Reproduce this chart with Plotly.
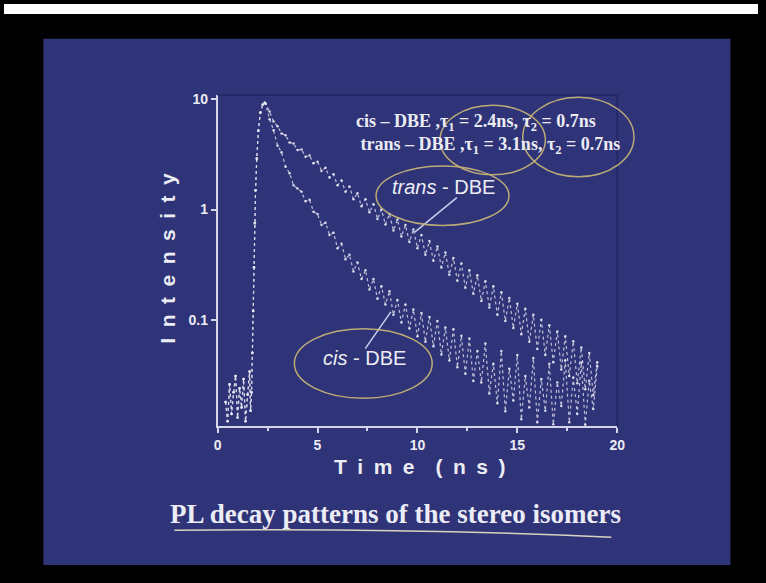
import plotly.graph_objects as go

# ---------------- data ----------------
rise_time = [0.4, 0.5, 0.6, 0.7, 0.8, 0.9, 1.0, 1.1, 1.2, 1.3, 1.4, 1.5, 1.6, 1.65, 1.7,
             1.74, 1.78, 1.82, 1.86, 1.90, 1.96, 2.04, 2.14, 2.26, 2.36]
rise_intensity = [0.018, 0.012, 0.026, 0.014, 0.022, 0.031, 0.013, 0.024, 0.016, 0.029, 0.012,
                  0.021, 0.034, 0.015, 0.022,
                  0.05, 0.12, 0.3, 0.75, 1.5, 2.9, 5.2, 7.6, 9.0, 9.3]

decay_time = [2.4, 2.6, 2.8, 3.0, 3.2, 3.4, 3.6, 3.8, 4.0, 4.2, 4.4, 4.6, 4.8, 5.0, 5.2, 5.4,
              5.6, 5.8, 6.0, 6.2, 6.4, 6.6, 6.8, 7.0, 7.2, 7.4, 7.6, 7.8, 8.0, 8.2, 8.4, 8.6,
              8.8, 9.0, 9.2, 9.4, 9.6, 9.8, 10.0, 10.2, 10.4, 10.6, 10.8, 11.0, 11.2, 11.4,
              11.6, 11.8, 12.0, 12.2, 12.4, 12.6, 12.8, 13.0, 13.2, 13.4, 13.6, 13.8, 14.0,
              14.2, 14.4, 14.6, 14.8, 15.0, 15.2, 15.4, 15.6, 15.8, 16.0, 16.2, 16.4, 16.6,
              16.8, 17.0, 17.2, 17.4, 17.6, 17.8, 18.0, 18.2, 18.4, 18.6, 18.8, 19.0]

cis_intensity = [9.12, 6.61, 5.25, 3.80, 3.31, 2.45, 2.14, 1.66, 1.55, 1.45, 1.19, 1.23, 0.955,
                 0.912, 0.724, 0.759, 0.589, 0.617, 0.447, 0.490, 0.355, 0.389, 0.275, 0.331,
                 0.234, 0.282, 0.188, 0.234, 0.155, 0.202, 0.138, 0.182, 0.111, 0.151, 0.0944,
                 0.138, 0.0832, 0.124, 0.0708, 0.115, 0.0631, 0.106, 0.0575, 0.0977, 0.0484,
                 0.0851, 0.0427, 0.0822, 0.0372, 0.0716, 0.0324, 0.0676, 0.0279, 0.052,
                 0.027, 0.061, 0.0215, 0.040, 0.0175, 0.052, 0.0148, 0.036, 0.0185,
                 0.048, 0.0125, 0.031, 0.0160, 0.045, 0.0118, 0.029, 0.0150, 0.040,
                 0.0113, 0.027, 0.0165, 0.043, 0.0118, 0.030, 0.0140, 0.041, 0.0112,
                 0.028, 0.0155, 0.038]

trans_intensity = [9.12, 7.76, 6.31, 5.69, 4.90, 4.73, 4.07, 3.98, 3.47, 3.51, 3.02, 3.09, 2.63,
                   2.72, 2.24, 2.40, 1.95, 2.09, 1.66, 1.84, 1.45, 1.62, 1.24, 1.41, 1.07, 1.24,
                   0.944, 1.12, 0.822, 1.00, 0.733, 0.912, 0.646, 0.813, 0.569, 0.724, 0.507,
                   0.661, 0.447, 0.589, 0.389, 0.519, 0.343, 0.462, 0.299, 0.407, 0.257, 0.363,
                   0.226, 0.324, 0.195, 0.282, 0.172, 0.254, 0.148, 0.224, 0.129, 0.202, 0.111,
                   0.178, 0.0977, 0.158, 0.0841, 0.140, 0.0741, 0.126, 0.0631, 0.111, 0.0543,
                   0.100, 0.0479, 0.0891, 0.0412, 0.0785, 0.0355, 0.0708, 0.0309, 0.0638,
                   0.0266, 0.0562, 0.0234, 0.0501, 0.0207, 0.0412]

x_ticks = [0, 5, 10, 15, 20]
y_ticks = [0.1, 1, 10]
y_ticklabels = ["0.1", "1", "10"]

# ---------------- layout helpers ----------------
W, H = 766, 583
def px(x):
    return x / W
def py(y):
    return 1 - y / H

SANS = "Liberation Sans, Arial, sans-serif"
SERIF = "Liberation Serif, Times New Roman, serif"
BLUE = "#2f3377"
AXIS = "#d6d6ea"
TXT = "#ececf4"
PEN = "rgba(196,178,120,0.95)"

fig = go.Figure()

data_line = dict(color="rgba(228,228,240,0.8)", width=1.2, dash="dot")
data_marker = dict(size=2.5, color="rgba(235,235,245,0.9)")

fig.add_trace(go.Scatter(x=rise_time + decay_time, y=rise_intensity + trans_intensity,
                         mode="lines+markers", line=data_line, marker=data_marker,
                         name="trans - DBE", hoverinfo="skip"))
fig.add_trace(go.Scatter(x=rise_time + decay_time, y=rise_intensity + cis_intensity,
                         mode="lines+markers", line=data_line, marker=data_marker,
                         name="cis - DBE", hoverinfo="skip"))

shapes = [
    # white strip at top edge of the photo
    dict(type="rect", xref="paper", yref="paper", x0=0, x1=1, y0=py(10), y1=1,
         fillcolor="white", line=dict(width=0), layer="below"),
    # blue slide
    dict(type="rect", xref="paper", yref="paper", x0=px(40), x1=px(738), y0=py(565), y1=py(35),
         fillcolor=BLUE, line=dict(width=0), layer="below"),
    # dark top/right frame of plot box
    dict(type="line", xref="paper", yref="paper", x0=px(217), x1=px(623), y0=py(92), y1=py(92),
         line=dict(color="#232765", width=1.5)),
    dict(type="line", xref="paper", yref="paper", x0=px(623), x1=px(623), y0=py(92), y1=py(425),
         line=dict(color="#232765", width=1.5)),
    # pointer lines
    dict(type="line", xref="paper", yref="paper", x0=px(460), x1=px(417), y0=py(195), y1=py(230),
         line=dict(color="#c8d0f0", width=1.5)),
    dict(type="line", xref="paper", yref="paper", x0=px(367), x1=px(393), y0=py(347), y1=py(310),
         line=dict(color="#c8d0f0", width=1.5)),
    # hand-drawn ellipses
    dict(type="circle", xref="paper", yref="paper", x0=px(443), x1=px(550), y0=py(172), y1=py(102),
         line=dict(color=PEN, width=1.5)),
    dict(type="circle", xref="paper", yref="paper", x0=px(527), x1=px(640), y0=py(174), y1=py(94),
         line=dict(color=PEN, width=1.5)),
    dict(type="circle", xref="paper", yref="paper", x0=px(378), x1=px(513), y0=py(223), y1=py(163),
         line=dict(color=PEN, width=1.5)),
    dict(type="circle", xref="paper", yref="paper", x0=px(295), x1=px(435), y0=py(397), y1=py(327),
         line=dict(color=PEN, width=1.5)),
    # underline of caption
    dict(type="path", xref="paper", yref="paper",
         path=f"M {px(173)} {py(530)} Q {px(400)} {py(527)} {px(617)} {py(537)}",
         line=dict(color="rgba(235,228,200,0.9)", width=1.5)),
]

annotations = [
    dict(text="cis – DBE ,τ<sub>1</sub> = 2.4ns, τ<sub>2</sub> = 0.7ns<br>"
              " trans – DBE ,τ<sub>1</sub> = 3.1ns, τ<sub>2</sub> = 0.7ns",
         x=px(356), y=py(131), xanchor="left", yanchor="middle", align="left",
         font=dict(family=SERIF, size=18, color=TXT, weight="bold")),
    dict(text="<i>trans</i> - DBE", x=px(447), y=py(184), xanchor="center", yanchor="middle",
         font=dict(family=SANS, size=20, color=TXT)),
    dict(text="<i>cis</i> - DBE", x=px(366), y=py(356), xanchor="center", yanchor="middle",
         font=dict(family=SANS, size=20, color=TXT)),
    dict(text="T\u2002i\u2002m\u2002e\u2002\u2002(\u2002n\u2002s\u2002)", x=px(423), y=py(466),
         xanchor="center", yanchor="middle",
         font=dict(family=SANS, size=21, color=TXT, weight="bold")),
    dict(text="I\u2002n\u2002t\u2002e\u2002n\u2002s\u2002i\u2002t\u2002y", x=px(166), y=py(256),
         xanchor="center", yanchor="middle", textangle=-90,
         font=dict(family=SANS, size=21, color=TXT, weight="bold")),
    dict(text="PL decay patterns of the stereo isomers", x=px(398), y=py(514),
         xanchor="center", yanchor="middle",
         font=dict(family=SERIF, size=27, color=TXT, weight="bold")),
]
for a in annotations:
    a.update(xref="paper", yref="paper", showarrow=False)

fig.update_layout(
    width=W, height=H, margin=dict(l=0, r=0, t=0, b=0),
    paper_bgcolor="black", plot_bgcolor="rgba(0,0,0,0)",
    showlegend=False, shapes=shapes, annotations=annotations,
    xaxis=dict(domain=[px(217), px(623)], range=[0, 20], tickvals=x_ticks,
               showline=True, linecolor=AXIS, linewidth=1.5, ticks="outside", ticklen=5,
               tickcolor=AXIS, tickwidth=1.5, showgrid=False, zeroline=False,
               minor=dict(ticks="outside", ticklen=3, tickvals=[2.5, 7.5, 12.5, 17.5],
                          tickcolor=AXIS, showgrid=False),
               tickfont=dict(family=SANS, size=14, color=TXT, weight="bold")),
    yaxis=dict(type="log", domain=[py(425), py(92)], range=[-1.964, 1.036],
               tickvals=y_ticks, ticktext=y_ticklabels,
               showline=True, linecolor=AXIS, linewidth=1.5, ticks="outside", ticklen=5,
               tickcolor=AXIS, tickwidth=1.5, showgrid=False, zeroline=False,
               tickfont=dict(family=SANS, size=14, color=TXT, weight="bold")),
)

fig.write_html(
    "out.html",
    config={"displayModeBar": False},
    post_script="document.body.style.margin='0';document.body.style.overflow='hidden';"
                "document.documentElement.style.overflow='hidden';",
)
